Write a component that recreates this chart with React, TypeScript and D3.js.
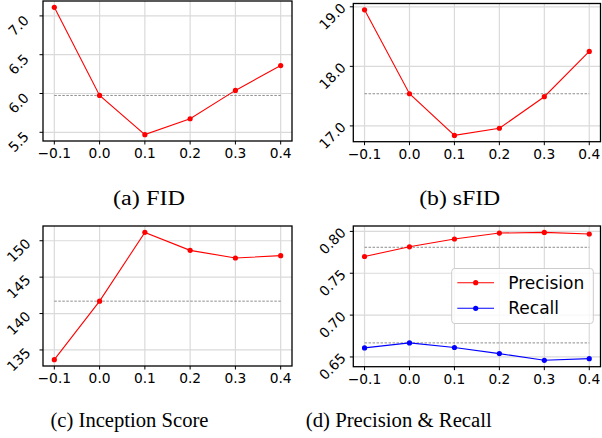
import React from "react";
import * as d3 from "d3";

// x positions shared by all four panels
const xValues = [-0.1, 0.0, 0.1, 0.2, 0.3, 0.4];
const xTickLabels = ["\u22120.1", "0.0", "0.1", "0.2", "0.3", "0.4"];

const fidValues = [7.11, 5.975, 5.47, 5.675, 6.04, 6.36];
const fidBaseline = 5.975;
const fidTicks = [5.5, 6.0, 6.5, 7.0];

const sfidValues = [18.95, 17.54, 16.84, 16.96, 17.49, 18.25];
const sfidBaseline = 17.54;
const sfidTicks = [17, 18, 19];

const isValues = [133.67, 141.7, 151.15, 148.68, 147.63, 147.95];
const isBaseline = 141.7;
const isTicks = [135, 140, 145, 150];

const precisionValues = [0.770, 0.7816, 0.7909, 0.798, 0.7988, 0.7969];
const recallValues = [0.6608, 0.6668, 0.6613, 0.654, 0.646, 0.648];
const precisionBaseline = 0.781;
const recallBaseline = 0.6668;
const prTicks = [0.65, 0.7, 0.75, 0.8];

const captions = ["(a) FID", "(b) sFID", "(c) Inception Score", "(d) Precision & Recall"];

interface Series {
    name: string;
    values: number[];
    color: string;
}

interface PanelProps {
    left: number;
    top: number;
    width: number;
    height: number;
    series: Series[];
    baselines: number[];
    ticks: number[];
    format: string;
    legend?: boolean;
}

const TICK_FONT = 13.8;

const Panel: React.FC<PanelProps> = ({ left, top, width, height, series, baselines, ticks, format, legend }) => {
    const x = d3.scaleLinear().domain([-0.125, 0.425]).range([left, left + width]);

    // matplotlib style 5% margins
    const all = series.flatMap((s) => s.values).concat(baselines);
    const lo = d3.min(all) as number;
    const hi = d3.max(all) as number;
    const pad = (hi - lo) * 0.05;
    const y = d3.scaleLinear().domain([lo - pad, hi + pad]).range([top + height, top]);
    const fmt = d3.format(format);
    const bottom = top + height;

    const line = d3
        .line<number>()
        .x((_, i) => x(xValues[i]))
        .y((d) => y(d));

    return (
        <g>
            {/* grid */}
            {xValues.map((v) => (
                <line key={"gx" + v} x1={x(v)} x2={x(v)} y1={top} y2={bottom} stroke="#dadada" strokeWidth={1.2} />
            ))}
            {ticks.map((t) => (
                <line key={"gy" + t} x1={left} x2={left + width} y1={y(t)} y2={y(t)} stroke="#dadada" strokeWidth={1.2} />
            ))}
            {/* baselines */}
            {baselines.map((b, i) => (
                <line
                    key={"b" + i}
                    x1={x(xValues[0])}
                    x2={x(xValues[xValues.length - 1])}
                    y1={y(b)}
                    y2={y(b)}
                    stroke="#808080"
                    strokeWidth={0.9}
                    strokeDasharray="2.5,1.5"
                />
            ))}
            {/* series */}
            {series.map((s) => (
                <g key={s.name}>
                    <path d={line(s.values) || ""} fill="none" stroke={s.color} strokeWidth={1.1} />
                    {s.values.map((v, i) => (
                        <circle key={i} cx={x(xValues[i])} cy={y(v)} r={2.6} fill={s.color} />
                    ))}
                </g>
            ))}
            {/* frame */}
            <rect x={left} y={top} width={width} height={height} fill="none" stroke="#000" strokeWidth={1.3} />
            {/* x ticks */}
            {xValues.map((v, i) => (
                <g key={"tx" + v}>
                    <line x1={x(v)} x2={x(v)} y1={bottom} y2={bottom + 3.5} stroke="#000" strokeWidth={1} />
                    <text
                        x={x(v)}
                        y={bottom + 17}
                        textAnchor="middle"
                        fontFamily="DejaVu Sans"
                        fontSize={TICK_FONT}
                        fill="#000"
                    >
                        {xTickLabels[i]}
                    </text>
                </g>
            ))}
            {/* y ticks, rotated labels sitting just below their tick */}
            {ticks.map((t) => {
                const label = fmt(t);
                const cx = left - 24.5 + (label.length - 3) * 3.5;
                const cy = y(t) + 9.5;
                return (
                    <g key={"ty" + t}>
                        <line x1={left - 3.5} x2={left} y1={y(t)} y2={y(t)} stroke="#000" strokeWidth={1} />
                        <text
                            transform={`translate(${cx},${cy}) rotate(-45)`}
                            textAnchor="middle"
                            dominantBaseline="central"
                            fontFamily="DejaVu Sans"
                            fontSize={TICK_FONT}
                            fill="#000"
                        >
                            {label}
                        </text>
                    </g>
                );
            })}
            {legend && (
                <g>
                    <rect
                        x={451.7}
                        y={268.5}
                        width={141.6}
                        height={55}
                        rx={3}
                        fill="rgba(255,255,255,0.8)"
                        stroke="#cccccc"
                        strokeWidth={1}
                    />
                    {series.map((s, i) => {
                        const ly = 282.7 + i * 25.6;
                        return (
                            <g key={"lg" + s.name}>
                                <line x1={457.3} x2={494} y1={ly} y2={ly} stroke={s.color} strokeWidth={1.1} />
                                <circle cx={475.7} cy={ly} r={2.6} fill={s.color} />
                                <text
                                    x={508.3}
                                    y={ly}
                                    dominantBaseline="central"
                                    fontFamily="DejaVu Sans"
                                    fontSize={17}
                                    fill="#000"
                                >
                                    {s.name}
                                </text>
                            </g>
                        );
                    })}
                </g>
            )}
        </g>
    );
};

// caption anchor and width in the figure
const captionPos = [
    { x: 149, y: 205, w: 72 },
    { x: 459.7, y: 205, w: 81 },
    { x: 129.5, y: 427, w: 158 },
    { x: 398.8, y: 427, w: 186 },
];

const App: React.FC = () => {
    return (
        <div style={{ position: "absolute", left: 0, top: 0 }}>
            <svg width={602} height={438} style={{ display: "block", background: "#fff" }}>
                <Panel
                    left={43}
                    top={1}
                    width={249}
                    height={140}
                    series={[{ name: "FID", values: fidValues, color: "#ff0000" }]}
                    baselines={[fidBaseline]}
                    ticks={fidTicks}
                    format=".1f"
                />
                <Panel
                    left={353.3}
                    top={3.5}
                    width={247.2}
                    height={138.2}
                    series={[{ name: "sFID", values: sfidValues, color: "#ff0000" }]}
                    baselines={[sfidBaseline]}
                    ticks={sfidTicks}
                    format=".1f"
                />
                <Panel
                    left={43}
                    top={226}
                    width={249}
                    height={140}
                    series={[{ name: "IS", values: isValues, color: "#ff0000" }]}
                    baselines={[isBaseline]}
                    ticks={isTicks}
                    format="d"
                />
                <Panel
                    left={353.3}
                    top={226}
                    width={247.2}
                    height={140.7}
                    series={[
                        { name: "Precision", values: precisionValues, color: "#ff0000" },
                        { name: "Recall", values: recallValues, color: "#0000ff" },
                    ]}
                    baselines={[precisionBaseline, recallBaseline]}
                    ticks={prTicks}
                    format=".2f"
                    legend
                />
                {captions.map((c, i) => (
                    <text
                        key={c}
                        x={captionPos[i].x}
                        y={captionPos[i].y}
                        textAnchor="middle"
                        textLength={captionPos[i].w}
                        lengthAdjust="spacingAndGlyphs"
                        fontFamily="Liberation Serif"
                        fontSize={20}
                        fill="#000"
                    >
                        {c}
                    </text>
                ))}
            </svg>
        </div>
    );
};

export default App;
